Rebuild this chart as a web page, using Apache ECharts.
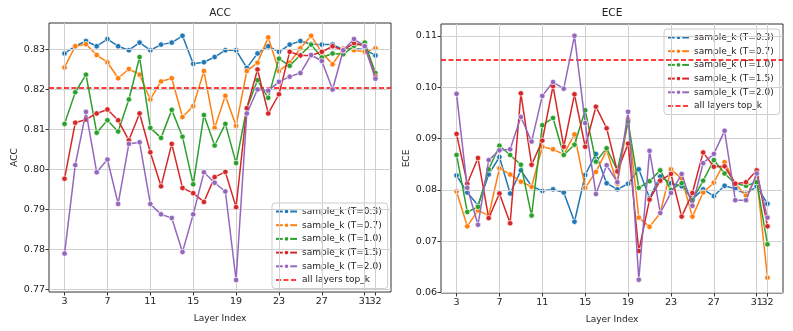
<!DOCTYPE html>
<html>
<head>
<meta charset="utf-8">
<script src="https://cdn.jsdelivr.net/npm/echarts@6/dist/echarts.min.js"></script>
<style>html,body{margin:0;padding:0;background:#fff}#c{width:793px;height:331px}</style>
</head>
<body>
<div id="c"></div>
<script>
const layers = [3,4,5,6,7,8,9,10,11,12,13,14,15,16,17,18,19,20,21,22,23,24,25,26,27,28,29,30,31,32];
const xTicks = [3,7,11,15,19,23,27,31,32];
const accTicks = [0.77,0.78,0.79,0.80,0.81,0.82,0.83];
const eceTicks = [0.06,0.07,0.08,0.09,0.10,0.11];
const seriesNames = ['sample_k (T=0.3)','sample_k (T=0.7)','sample_k (T=1.0)','sample_k (T=1.5)','sample_k (T=2.0)'];
const refName = 'all layers top_k';

const accT03 = [0.8290,0.8308,0.8321,0.8308,0.8326,0.8308,0.8298,0.8317,0.8298,0.8312,0.8317,0.8334,0.8264,0.8268,0.8281,0.8298,0.8298,0.8254,0.8290,0.8308,0.8294,0.8312,0.8321,0.8313,0.8312,0.8312,0.8300,0.8302,0.8300,0.8285];
const accT07 = [0.8255,0.8308,0.8313,0.8286,0.8268,0.8228,0.8251,0.8237,0.8175,0.8220,0.8228,0.8131,0.8158,0.8246,0.8104,0.8184,0.8109,0.8246,0.8267,0.8330,0.8246,0.8267,0.8303,0.8334,0.8292,0.8263,0.8302,0.8298,0.8294,0.8303];
const accT10 = [0.8114,0.8193,0.8237,0.8092,0.8123,0.8095,0.8175,0.8281,0.8104,0.8079,0.8149,0.8082,0.7963,0.8136,0.8060,0.8114,0.8016,0.8153,0.8223,0.8179,0.8277,0.8259,0.8286,0.8312,0.8280,0.8290,0.8288,0.8309,0.8317,0.8241];
const accT15 = [0.7977,0.8117,0.8125,0.8140,0.8150,0.8123,0.8073,0.8140,0.8043,0.7958,0.8064,0.7954,0.7941,0.7919,0.7981,0.7994,0.7906,0.8153,0.8250,0.8140,0.8188,0.8294,0.8285,0.8285,0.8294,0.8308,0.8298,0.8316,0.8308,0.8232];
const accT20 = [0.7790,0.8011,0.8144,0.7993,0.8025,0.7914,0.8064,0.8068,0.7914,0.7888,0.7879,0.7794,0.7888,0.7993,0.7967,0.7945,0.7724,0.8140,0.8200,0.8197,0.8219,0.8232,0.8241,0.8286,0.8271,0.8200,0.8298,0.8326,0.8308,0.8227];
const accRef = 0.8205;

const eceT03 = [0.0828,0.0795,0.0770,0.0830,0.0864,0.0793,0.0838,0.0807,0.0798,0.0801,0.0795,0.0738,0.0829,0.0870,0.0813,0.0801,0.0812,0.0840,0.0784,0.0826,0.0813,0.0807,0.0782,0.0801,0.0788,0.0808,0.0802,0.0792,0.0807,0.0773];
const eceT07 = [0.0797,0.0729,0.0760,0.0750,0.0842,0.0830,0.0816,0.0806,0.0884,0.0879,0.0869,0.0908,0.0804,0.0835,0.0877,0.0812,0.0937,0.0746,0.0728,0.0755,0.0840,0.0822,0.0748,0.0795,0.0814,0.0854,0.0812,0.0789,0.0825,0.0629];
const eceT10 = [0.0868,0.0757,0.0767,0.0840,0.0886,0.0868,0.0849,0.0750,0.0926,0.0940,0.0868,0.0888,0.0955,0.0855,0.0881,0.0838,0.0933,0.0804,0.0817,0.0838,0.0800,0.0813,0.0780,0.0818,0.0858,0.0832,0.0812,0.0808,0.0815,0.0694];
const eceT15 = [0.0909,0.0812,0.0862,0.0745,0.0793,0.0735,0.0988,0.0849,0.0896,0.1002,0.0884,0.0986,0.0884,0.0962,0.0920,0.0836,0.0890,0.0681,0.0781,0.0818,0.0831,0.0748,0.0794,0.0873,0.0845,0.0846,0.0812,0.0815,0.0838,0.0729];
const eceT20 = [0.0987,0.0804,0.0732,0.0858,0.0877,0.0879,0.0942,0.0894,0.0983,0.1010,0.0997,0.1100,0.0930,0.0792,0.0848,0.0815,0.0952,0.0625,0.0876,0.0755,0.0794,0.0831,0.0769,0.0852,0.0870,0.0915,0.0780,0.0780,0.0832,0.0746];
const eceRef = 0.10525;

const colors = ['#1f77b4','#ff7f0e','#2ca02c','#d62728','#9467bd'];
const FONT = 'DejaVu Sans';
const accSets = [accT03, accT07, accT10, accT15, accT20];
const eceSets = [eceT03, eceT07, eceT10, eceT15, eceT20];
const DASH = [5, 2.5];
const X_MIN = 1.55, X_MAX = 33.45;

function dataSeries(vals, i, idx) {
  return {
    type: 'line', name: seriesNames[i], xAxisIndex: idx, yAxisIndex: idx,
    data: layers.map((l, k) => [l, vals[k]]),
    symbol: 'circle', symbolSize: 5.5, showSymbol: true,
    lineStyle: { color: colors[i], width: 1.5 },
    itemStyle: { color: colors[i], borderColor: '#fff', borderWidth: 0.7 },
    z: 3 + i, animation: false
  };
}
function gridSeries(idx, yT) {
  const lines = xTicks.map(v => ({ xAxis: v })).concat(yT.map(v => ({ yAxis: v })));
  return {
    type: 'line', xAxisIndex: idx, yAxisIndex: idx, data: [], silent: true, z: 1,
    markLine: { silent: true, precision: 10, symbol: ['none','none'], label: { show: false },
      lineStyle: { color: '#d0d0d0', width: 1, type: 'solid' }, data: lines, animation: false }
  };
}
function refSeries(idx, val) {
  return {
    type: 'line', name: refName, xAxisIndex: idx, yAxisIndex: idx, data: [],
    symbol: 'none', lineStyle: { color: '#ff0000', width: 1.5, type: DASH },
    itemStyle: { color: '#ff0000' }, z: 10,
    markLine: { silent: true, precision: 10, symbol: ['none','none'], label: { show: false },
      lineStyle: { color: '#ff0000', width: 1.5, type: DASH }, data: [{ yAxis: val }], animation: false }
  };
}
function xAxis(gridIdx, ticks, withName) {
  return {
    type: 'value', gridIndex: gridIdx, min: X_MIN, max: X_MAX, position: 'bottom', offset: 0,
    name: withName ? 'Layer Index' : '', nameLocation: 'middle', nameGap: 22,
    nameTextStyle: { fontFamily: FONT, fontSize: 9, color: '#222' },
    axisLine: { show: false },
    axisTick: { show: true, customValues: ticks, length: 3.5, lineStyle: { color: '#333' } },
    axisLabel: { customValues: ticks, hideOverlap: false,
      fontFamily: FONT, fontSize: 9.5, color: '#222', margin: 5, formatter: v => String(v) },
    splitLine: { show: false }
  };
}
function yAxis(idx, min, max, ticks, name) {
  return {
    type: 'value', gridIndex: idx, min: min, max: max,
    name: name, nameLocation: 'middle', nameGap: 30,
    nameTextStyle: { fontFamily: FONT, fontSize: 9, color: '#222' },
    axisLine: { show: false },
    axisTick: { show: true, customValues: ticks, length: 3.5, lineStyle: { color: '#333' } },
    axisLabel: { customValues: ticks, hideOverlap: false, fontFamily: FONT, fontSize: 9.5, color: '#222', margin: 4,
      formatter: v => v.toFixed(2) },
    splitLine: { show: false }
  };
}
function legend(left, top) {
  const items = seriesNames.map(n => ({ name: n }));
  items.push({ name: refName, itemStyle: { color: 'rgba(0,0,0,0)', borderColor: 'rgba(0,0,0,0)', borderWidth: 0 },
    lineStyle: { color: '#ff0000', type: DASH, width: 1.5 } });
  return {
    left: left, top: top, orient: 'vertical',
    data: items,
    itemWidth: 21, itemHeight: 7, itemGap: 2.7,
    textStyle: { fontFamily: FONT, fontSize: 9, color: '#222', lineHeight: 11 },
    backgroundColor: 'rgba(255,255,255,0.85)', borderColor: '#cccccc', borderWidth: 1, borderRadius: 3,
    padding: [3, 6, 3, 3], selectedMode: false
  };
}

const mainTicks = xTicks.slice(0, -1);
const lastTick = xTicks.slice(-1);

const chart = echarts.init(document.getElementById('c'), null, { renderer: 'canvas' });
const series = [gridSeries(0, accTicks), gridSeries(1, eceTicks)];
accSets.forEach((s, i) => series.push(dataSeries(s, i, 0)));
series.push(refSeries(0, accRef));
eceSets.forEach((s, i) => series.push(dataSeries(s, i, 1)));
series.push(refSeries(1, eceRef));

chart.setOption({
  animation: false,
  backgroundColor: '#fff',
  title: [
    { text: 'ACC', left: 220, top: 8, textAlign: 'center', padding: 0,
      textStyle: { fontFamily: FONT, fontSize: 10.5, fontWeight: 'normal', color: '#222' } },
    { text: 'ECE', left: 612, top: 8, textAlign: 'center', padding: 0,
      textStyle: { fontFamily: FONT, fontSize: 10.5, fontWeight: 'normal', color: '#222' } }
  ],
  legend: [legend(272, 203), legend(664, 29)],
  grid: [
    { left: 49, top: 23, width: 342, height: 269, show: true, borderColor: '#333', borderWidth: 1, backgroundColor: 'transparent' },
    { left: 441, top: 24, width: 342, height: 269, show: true, borderColor: '#333', borderWidth: 1, backgroundColor: 'transparent' }
  ],
  xAxis: [xAxis(0, mainTicks, true), xAxis(1, mainTicks, true), xAxis(0, lastTick, false), xAxis(1, lastTick, false)],
  yAxis: [yAxis(0, 0.7694, 0.8366, accTicks, 'ACC'), yAxis(1, 0.05992, 0.11230, eceTicks, 'ECE')],
  series: series
});
</script>
</body>
</html>
